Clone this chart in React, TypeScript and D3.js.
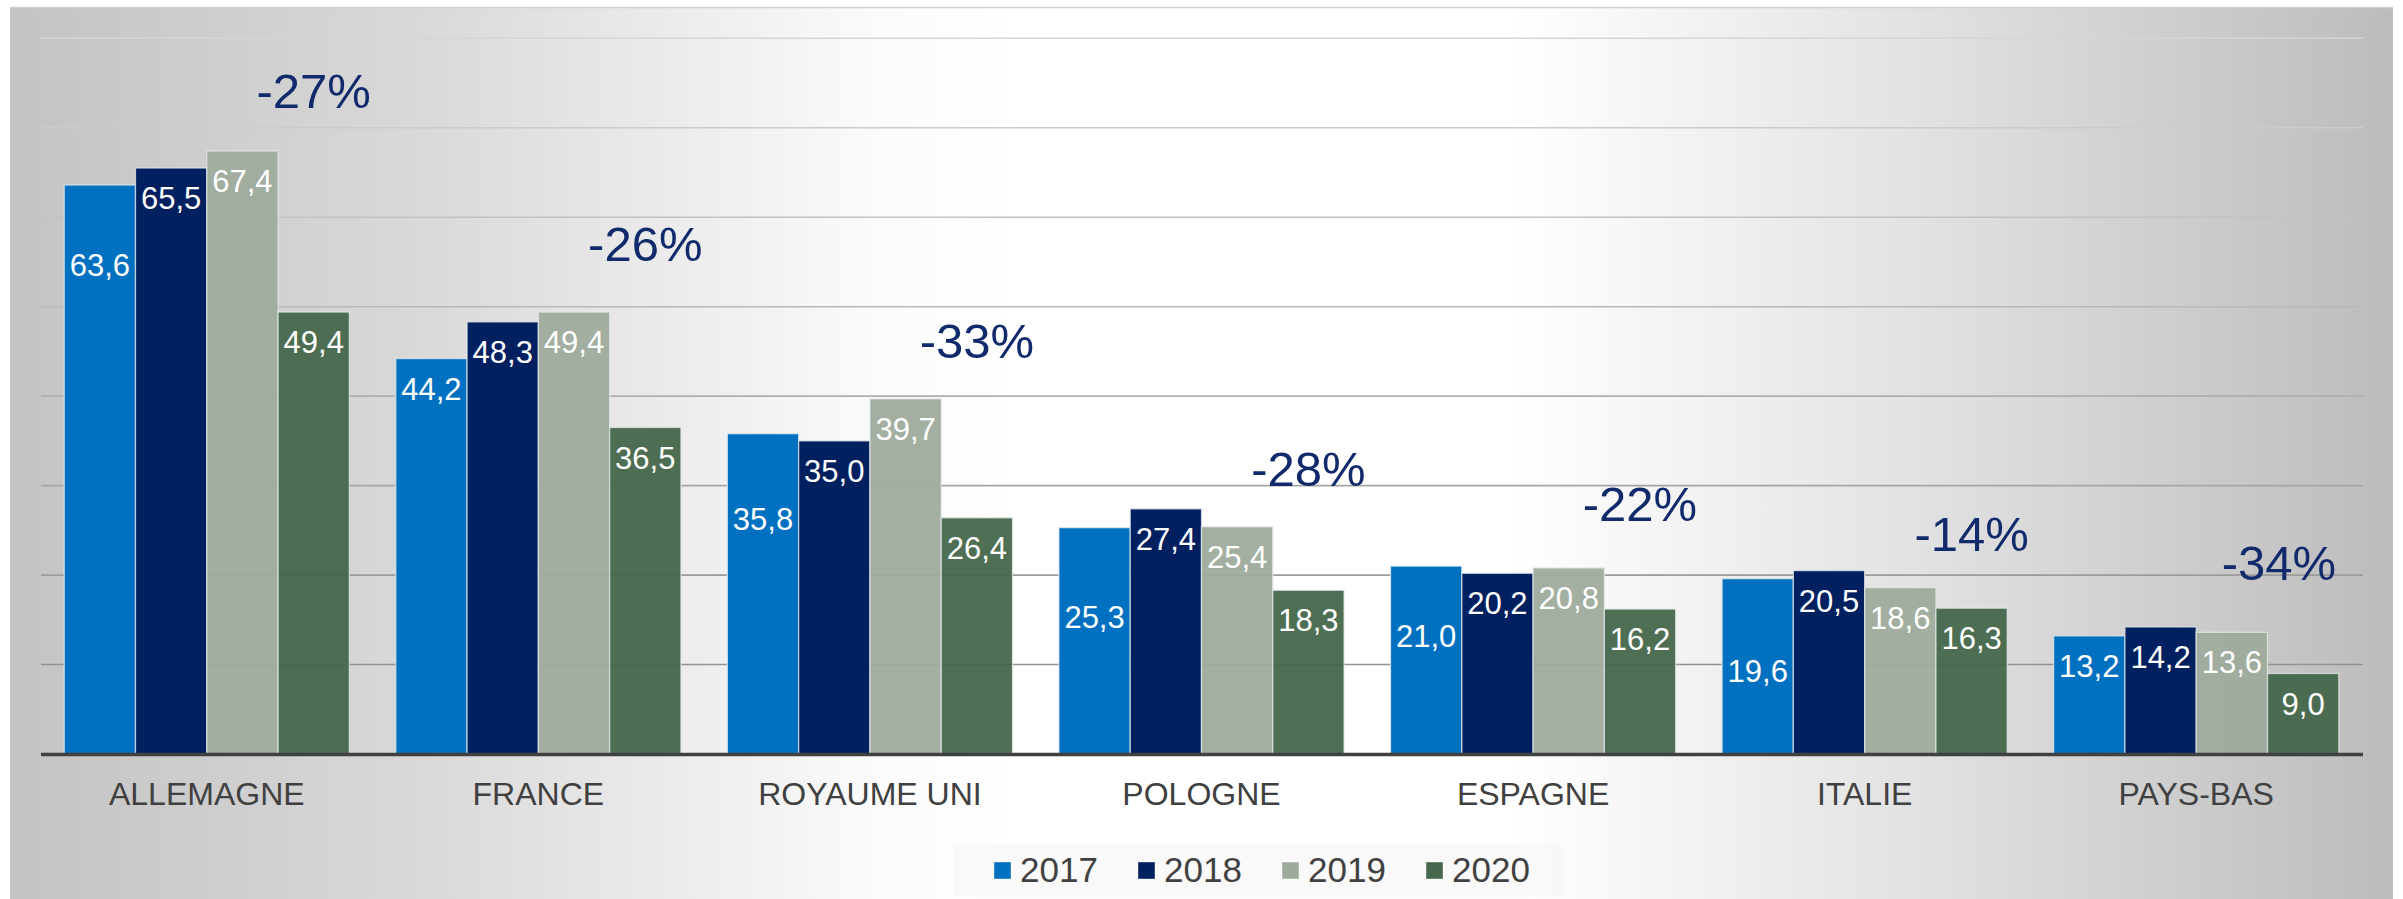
import React from "react";
import * as d3 from "d3";

const categories = ["ALLEMAGNE", "FRANCE", "ROYAUME UNI", "POLOGNE", "ESPAGNE", "ITALIE", "PAYS-BAS"];
const years = ["2017", "2018", "2019", "2020"];
const v2017 = [63.6, 44.2, 35.8, 25.3, 21.0, 19.6, 13.2];
const v2018 = [65.5, 48.3, 35.0, 27.4, 20.2, 20.5, 14.2];
const v2019 = [67.4, 49.4, 39.7, 25.4, 20.8, 18.6, 13.6];
const v2020 = [49.4, 36.5, 26.4, 18.3, 16.2, 16.3, 9.0];
const pctLabels = ["-27%", "-26%", "-33%", "-28%", "-22%", "-14%", "-34%"];
const yTicks = [10, 20, 30, 40, 50, 60, 70, 80];

// layout nudges (pixels), as the labels were placed by hand in the original
const label2017Drop = [50, 0, 55, 59, 40, 62, 0];
const pctLift = [43, 51, 41, 23, 45, 20, 47];

const series = [v2017, v2018, v2019, v2020];
const colors = ["#0070c0", "#002060", "#9eab9c", "#46674b"];
const opac = [1, 1, 0.95, 0.95];

const W = 2403;
const H = 899;
const FONT = "'Liberation Sans', Arial, Helvetica, sans-serif";

const locale = d3.formatLocale({ decimal: ",", thousands: " ", grouping: [3], currency: ["", "€"] });
const fmt = locale.format(".1f");

export default function App() {
  const x0 = d3.scaleBand<string>().domain(categories).range([41, 2362]).paddingInner(0.14).paddingOuter(0.07);
  const x1 = d3.scaleBand<string>().domain(years).range([0, x0.bandwidth()]).padding(0);
  const y = d3.scaleLinear().domain([0, 80]).range([754, 38.3]);

  const panelX = 10, panelY = 7, panelR = 2393, panelB = 899;

  return (
    <svg width={W} height={H} style={{ position: "absolute", left: 0, top: 0, fontFamily: FONT }}>
      <defs>
        <linearGradient id="bg" gradientUnits="userSpaceOnUse" x1={panelX} y1={0} x2={panelR} y2={0}>
          <stop offset="0" stopColor="#c3c3c3" />
          <stop offset="0.18" stopColor="#dadada" />
          <stop offset="0.365" stopColor="#fbfbfb" />
          <stop offset="0.42" stopColor="#ffffff" />
          <stop offset="0.63" stopColor="#ffffff" />
          <stop offset="0.8" stopColor="#e2e2e2" />
          <stop offset="1" stopColor="#bcbcbc" />
        </linearGradient>
        <linearGradient id="grid" gradientUnits="userSpaceOnUse" x1={0} y1={30} x2={0} y2={700}>
          <stop offset="0" stopColor="#d6d6d6" />
          <stop offset="1" stopColor="#8e8e8e" />
        </linearGradient>
      </defs>
      <rect x={0} y={0} width={W} height={H} fill="#ffffff" />
      <rect x={panelX} y={panelY} width={panelR - panelX} height={panelB - panelY} fill="url(#bg)" />
      <line x1={panelX} x2={panelR} y1={panelY + 0.5} y2={panelY + 0.5} stroke="#cfcfcf" strokeWidth={1.5} />

      {yTicks.map((t) => (
        <line key={t} x1={41} x2={2363} y1={y(t)} y2={y(t)} stroke="url(#grid)" strokeWidth={1.6} />
      ))}

      {categories.map((c, i) => (
        <g key={c} transform={`translate(${x0(c)},0)`}>
          {years.map((yr, s) => {
            const v = series[s][i];
            return (
              <rect
                key={yr}
                x={x1(yr)}
                y={y(v)}
                width={x1.bandwidth()}
                height={y(0) - y(v)}
                fill={colors[s]}
                fillOpacity={opac[s]}
                stroke="#e4eaec"
                strokeOpacity={0.75}
                strokeWidth={1.3}
              />
            );
          })}
          {years.map((yr, s) => {
            const v = series[s][i];
            const drop = s === 0 ? label2017Drop[i] : 0;
            return (
              <text
                key={"l" + yr}
                x={(x1(yr) as number) + x1.bandwidth() / 2}
                y={y(v) + 30 + drop}
                dy="0.36em"
                textAnchor="middle"
                fill="#ffffff"
                fontSize={31}
              >
                {fmt(v)}
              </text>
            );
          })}
        </g>
      ))}

      {categories.map((c, i) => {
        const max = Math.max(v2017[i], v2018[i], v2019[i], v2020[i]);
        const center = (x0(c) as number) + (x1("2020") as number) + x1.bandwidth() / 2;
        const half = 49 * 2.33 / 2;
        const px = Math.min(center, 2336 - half);
        return (
          <text key={"p" + c} x={px} y={y(max) - pctLift[i]} textAnchor="middle" fill="#102a6b" fontSize={49}>
            {pctLabels[i]}
          </text>
        );
      })}

      <line x1={41} x2={2363} y1={754.5} y2={754.5} stroke="#404040" strokeWidth={3.6} />

      {categories.map((c) => (
        <text key={"c" + c} x={(x0(c) as number) + x0.bandwidth() / 2} y={805} textAnchor="middle" fill="#404040" fontSize={32}>
          {c}
        </text>
      ))}

      <rect x={954} y={844} width={610} height={53} fill="#f7f7f7" fillOpacity={0.75} />
      {years.map((yr, s) => (
        <g key={"lg" + yr} transform={`translate(${994 + s * 144},0)`}>
          <rect x={0} y={862} width={17} height={17} fill={colors[s]} stroke="#ffffff" strokeOpacity={0.4} strokeWidth={1} />
          <text x={26} y={882} fill="#404040" fontSize={35}>
            {yr}
          </text>
        </g>
      ))}
    </svg>
  );
}
